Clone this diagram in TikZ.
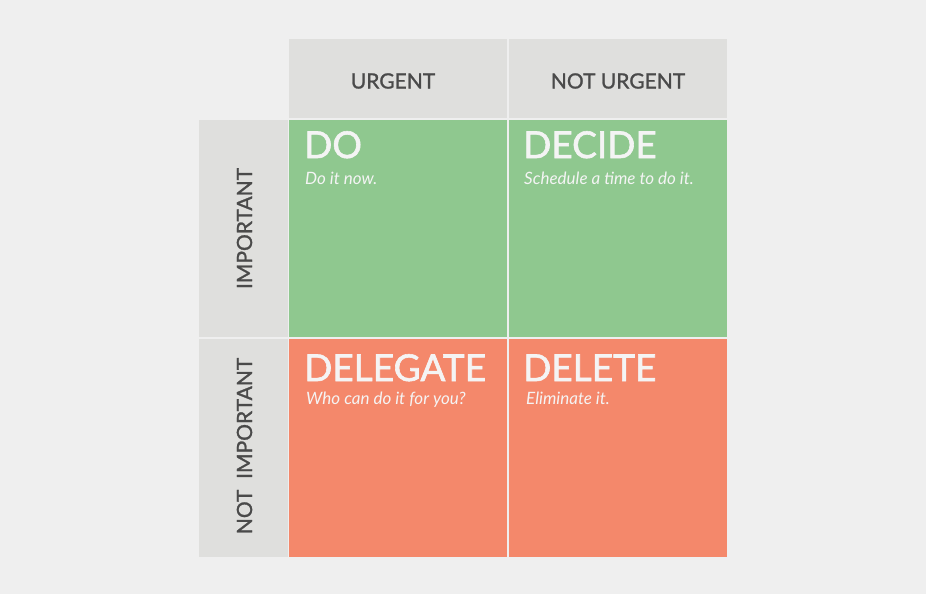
\documentclass[tikz,border=0pt]{standalone}
\usepackage{fontspec}
\setmainfont{Lato}
\newfontfamily\medfont[FakeBold=1.2]{Lato}
\newfontfamily\titfont[FakeBold=1.6]{Lato}
\definecolor{bgc}{HTML}{EFEFEF}
\definecolor{hdr}{HTML}{DFDFDD}
\definecolor{grn}{HTML}{8FC88F}
\definecolor{sal}{HTML}{F4886B}
\definecolor{dtxt}{HTML}{4A4A4A}
\definecolor{wtxt}{HTML}{F4F4F4}
\begin{document}
\begin{tikzpicture}[x=1pt,y=-1pt,
  cell/.style={inner sep=0pt,outer sep=0pt,anchor=north west},
  hlabel/.style={text=dtxt,font=\medfont\fontsize{21}{24}\selectfont},
  title/.style={text=wtxt,anchor=base west,inner sep=0pt,font=\titfont\fontsize{37}{40}\selectfont},
  sub/.style={text=wtxt,anchor=base west,inner sep=0pt,font=\itshape\fontsize{17}{20}\selectfont}]
\fill[bgc] (0,0) rectangle (926,594);
\useasboundingbox (0,0) rectangle (926,594);
% headers
\node[cell,fill=hdr,minimum width=218pt,minimum height=79pt] (h1) at (289,39) {};
\node[cell,fill=hdr,minimum width=218pt,minimum height=79pt] (h2) at (509,39) {};
\node[cell,fill=hdr,minimum width=89pt,minimum height=217pt] (v1) at (199,120) {};
\node[cell,fill=hdr,minimum width=89pt,minimum height=218pt] (v2) at (199,339) {};
% quadrants
\node[cell,fill=grn,minimum width=218pt,minimum height=217pt] (q1) at (289,120) {};
\node[cell,fill=grn,minimum width=218pt,minimum height=217pt] (q2) at (509,120) {};
\node[cell,fill=sal,minimum width=218pt,minimum height=218pt] (q3) at (289,339) {};
\node[cell,fill=sal,minimum width=218pt,minimum height=218pt] (q4) at (509,339) {};
% header labels
\node[hlabel] (t1) at ([xshift=-5pt,yshift=-2.5pt]h1.center) {URGENT};
\node[hlabel] (t2) at ([yshift=-2.5pt]h2.center) {NOT URGENT};
\node[hlabel,rotate=90] (t3) at ([xshift=1pt]v1.center) {IMPORTANT};
\node[hlabel,rotate=90] (t4) at ([xshift=1pt,yshift=2pt]v2.center) {NOT\ \ IMPORTANT};
% titles
\node[title] (a1) at (304,158) {DO};
\node[sub] (b1) at (305,184) {Do it now.};
\node[title] (a2) at (523,158) {DECIDE};
\node[sub] (b2) at (524,184) {Schedule a time to do it.};
\node[title] (a3) at (304,381) {DELEGATE};
\node[sub] (b3) at (306,404) {Who can do it for you?};
\node[title] (a4) at (523,381) {DELETE};
\node[sub] (b4) at (526,404) {Eliminate it.};
\end{tikzpicture}
\end{document}
